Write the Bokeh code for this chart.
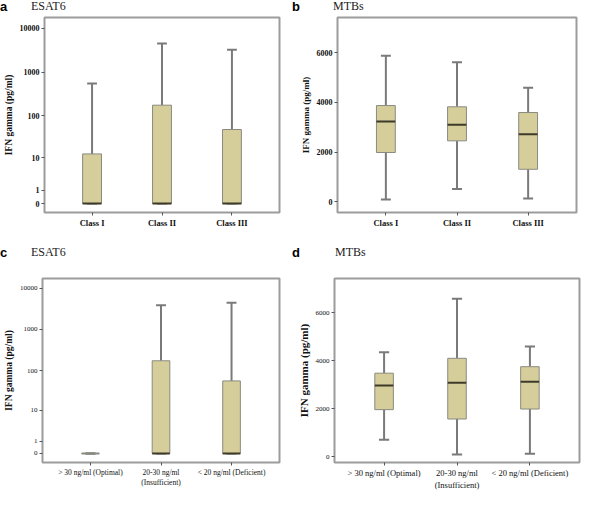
import numpy as np
from bokeh.plotting import figure
from bokeh.models import (Range1d, FixedTicker, CustomJSTickFormatter,
                          ColumnDataSource, Div)
from bokeh.layouts import column, row
from bokeh.embed import file_html
from bokeh.resources import INLINE

# ---------------- data ----------------
classes = ["Class I", "Class II", "Class III"]
vitd_groups = ["> 30 ng/ml (Optimal)", "20-30 ng/ml\n(Insufficient)", "< 20 ng/ml (Deficient)"]

# panel a: ESAT6 by class (pg/ml)
a_min = [0, 0, 0]
a_q1 = [0, 0, 0]
a_med = [0, 0, 0]
a_q3 = [12.6, 175, 48]
a_max = [550, 4480, 3250]

# panel b: MTBs by class (pg/ml)
b_min = [90, 520, 130]
b_q1 = [1985, 2455, 1310]
b_med = [3230, 3100, 2720]
b_q3 = [3875, 3825, 3595]
b_max = [5885, 5620, 4590]

# panel c: ESAT6 by vitamin D status (pg/ml)
c_min = [0, 0, 0]
c_q1 = [0, 0, 0]
c_med = [0, 0, 0]
c_q3 = [0, 174, 56]
c_max = [0, 3870, 4450]

# panel d: MTBs by vitamin D status (pg/ml)
d_min = [710, 100, 130]
d_q1 = [1965, 1575, 1990]
d_med = [2965, 3080, 3120]
d_q3 = [3480, 4100, 3750]
d_max = [4350, 6575, 4585]

log_ticks = [0, 1, 10, 100, 1000, 10000]
lin_ticks = [0, 2000, 4000, 6000]

# ---------------- style ----------------
SERIF = "Liberation Serif"
SANS = "Liberation Sans"
BOX_FILL = "#d5ce9a"
BOX_LINE = "#8a8a82"
WHISK = "#7a7a7a"
MED = "#3e3a2a"


def header(letter, title, title_x, h):
    html = (
        f'<div style="position:relative;width:292px;height:{h}px;overflow:visible;">'
        f'<span style="position:absolute;left:0px;top:0px;line-height:13px;font-family:{SANS};'
        f'font-weight:bold;font-size:13px;color:#000;">{letter}</span>'
        f'<span style="position:absolute;left:{title_x}px;top:0px;line-height:13px;font-family:{SERIF};'
        f'font-size:12px;color:#222;">{title}</span></div>'
    )
    return Div(text=html, width=292, height=h, margin=0)


def make_panel(cats, mn, q1, md, q3, mx, log, yr, box_w,
               borders, tick_bold, xfs, yfs, lfs, height):
    left, right, top, bottom = borders
    if log:
        f = lambda v: np.log10(np.asarray(v, dtype=float) + 1.0)
    else:
        f = lambda v: np.asarray(v, dtype=float)
    xs = np.arange(1, len(cats) + 1, dtype=float)
    p = figure(width=292, height=height, output_backend="svg", toolbar_location=None,
               x_range=Range1d(0.32, len(cats) + 0.68), y_range=Range1d(*yr),
               min_border_left=left, min_border_right=right,
               min_border_top=top, min_border_bottom=bottom, margin=0)
    p.xgrid.visible = False
    p.ygrid.visible = False
    p.outline_line_color = "#9c9c9c"
    p.outline_line_width = 2
    p.outline_line_alpha = 1.0
    p.background_fill_color = "white"

    src = ColumnDataSource(dict(
        x=xs, mn=f(mn), q1=f(q1), md=f(md), q3=f(q3), mx=f(mx),
        cl=xs - 0.07, cr=xs + 0.07, ml=xs - box_w / 2, mr=xs + box_w / 2,
        mc=[MED if b > a else BOX_LINE for a, b in zip(q1, q3)],
    ))
    # whiskers
    p.segment(x0="x", x1="x", y0="q3", y1="mx", source=src, line_color=WHISK, line_width=2)
    p.segment(x0="x", x1="x", y0="mn", y1="q1", source=src, line_color=WHISK, line_width=2)
    # caps
    p.segment(x0="cl", x1="cr", y0="mx", y1="mx", source=src, line_color=WHISK, line_width=2)
    p.segment(x0="cl", x1="cr", y0="mn", y1="mn", source=src, line_color=WHISK, line_width=2)
    # boxes
    p.vbar(x="x", width=box_w, bottom="q1", top="q3", source=src,
           fill_color=BOX_FILL, line_color=BOX_LINE, line_width=1)
    # medians
    p.segment(x0="ml", x1="mr", y0="md", y1="md", source=src, line_color="mc", line_width=2)

    # axes
    p.xaxis.ticker = FixedTicker(ticks=list(xs))
    p.xaxis.major_label_overrides = {int(x): c for x, c in zip(xs, cats)}
    if log:
        p.yaxis.ticker = FixedTicker(ticks=list(np.log10(np.array(log_ticks, dtype=float) + 1.0)))
        p.yaxis.formatter = CustomJSTickFormatter(code="return String(Math.round(Math.pow(10, tick) - 1));")
    else:
        p.yaxis.ticker = FixedTicker(ticks=lin_ticks)
    for ax in (p.xaxis[0], p.yaxis[0]):
        ax.axis_line_color = None
        ax.major_tick_line_color = "#555555"
        ax.major_tick_in = 0
        ax.major_tick_out = 3
        ax.minor_tick_line_color = None
        ax.major_label_text_font = SERIF
        ax.major_label_text_color = "#111111"
        ax.major_label_standoff = 2
    p.xaxis.major_label_text_font_style = "bold" if tick_bold else "normal"
    p.yaxis.major_label_text_font_style = "bold" if tick_bold else "normal"
    p.xaxis.major_label_text_font_size = f"{xfs}px"
    p.yaxis.major_label_text_font_size = f"{yfs}px"
    p.yaxis.axis_label = "IFN gamma (pg/ml)"
    p.yaxis.axis_label_text_font = SERIF
    p.yaxis.axis_label_text_font_style = "bold"
    p.yaxis.axis_label_text_font_size = f"{lfs}px"
    p.yaxis.axis_label_text_color = "#111111"
    p.yaxis.axis_label_standoff = 3
    return p


H1 = 14   # header heights
FH = 232  # figure heights

pa = make_panel(classes, a_min, a_q1, a_med, a_q3, a_max, True,
                (-0.203, 4.246), 0.27, (36, 13, 3, 25), True, 8.5, 8, 9.5, FH)
pb = make_panel(classes, b_min, b_q1, b_med, b_q3, b_max, False,
                (-430, 7420), 0.265, (45, 8, 3, 34), True, 8.5, 8, 9, FH)
pc = make_panel(vitd_groups, c_min, c_q1, c_med, c_q3, c_max, True,
                (-0.218, 4.234), 0.25, (36, 13, 18, 22), False, 7.5, 7, 9.5, FH)
pd_ = make_panel(vitd_groups, d_min, d_q1, d_med, d_q3, d_max, False,
                 (-233, 7417), 0.254, (42, 5, 18, 22), False, 8.5, 7, 11, FH)

ha = header("a", "ESAT6", 31, H1)
hb = header("b", "MTBs", 41, H1)
hc = header("c", "ESAT6", 31, H1)
hd = header("d", "MTBs", 43, H1)

layout = column(
    row(ha, hb, margin=0, spacing=0),
    row(pa, pb, margin=0, spacing=0),
    row(hc, hd, margin=0, spacing=0),
    row(pc, pd_, margin=0, spacing=0),
    margin=0, spacing=0,
)
open("out.html", "w").write(file_html(layout, INLINE))
